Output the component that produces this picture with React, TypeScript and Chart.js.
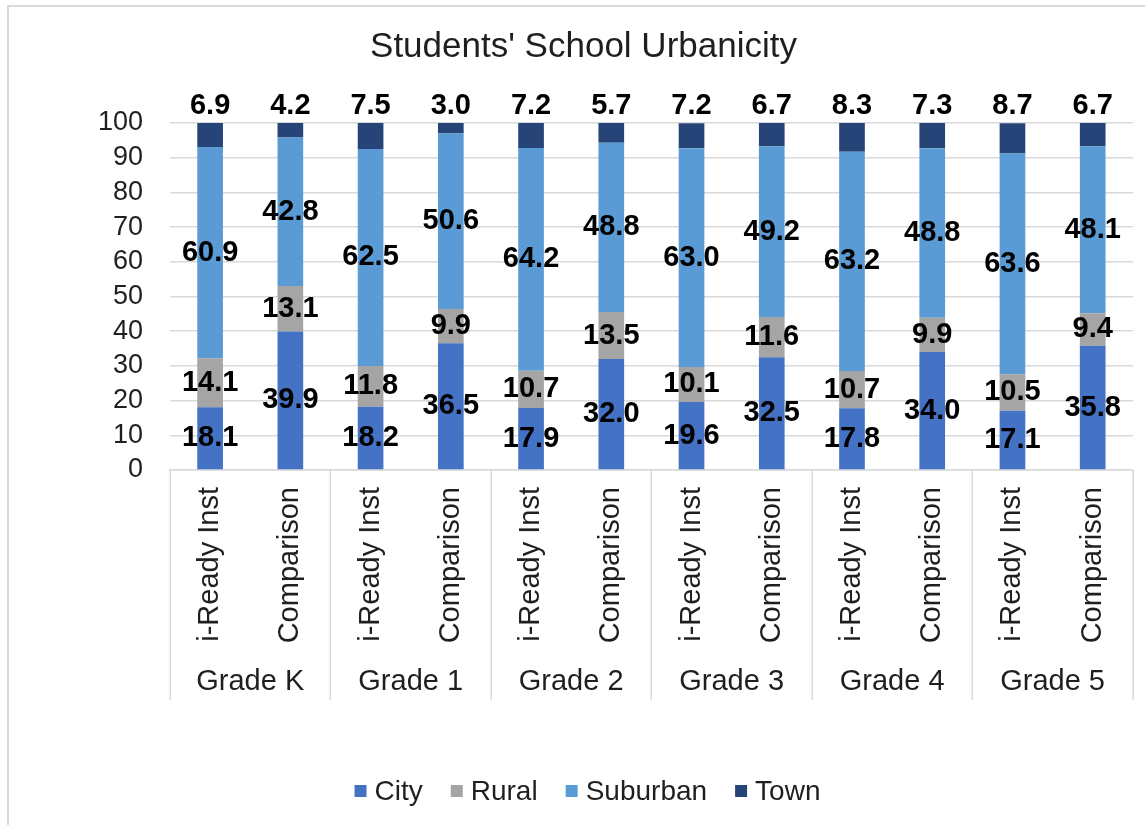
import React, { useEffect, useRef } from "react";
import { Chart, registerables } from "chart.js";

Chart.register(...registerables);

const FONT = "'Liberation Sans', Arial, sans-serif";
const TEXT = "#1f1f1f";
const GRID = "#d9d9d9";

const grades = ["Grade K", "Grade 1", "Grade 2", "Grade 3", "Grade 4", "Grade 5"];
const groups = ["i-Ready Inst", "Comparison"];
const categories = grades.flatMap(() => groups);

const city = [18.1, 39.9, 18.2, 36.5, 17.9, 32.0, 19.6, 32.5, 17.8, 34.0, 17.1, 35.8];
const rural = [14.1, 13.1, 11.8, 9.9, 10.7, 13.5, 10.1, 11.6, 10.7, 9.9, 10.5, 9.4];
const suburban = [60.9, 42.8, 62.5, 50.6, 64.2, 48.8, 63.0, 49.2, 63.2, 48.8, 63.6, 48.1];
const town = [6.9, 4.2, 7.5, 3.0, 7.2, 5.7, 7.2, 6.7, 8.3, 7.3, 8.7, 6.7];

const seriesNames = ["City", "Rural", "Suburban", "Town"];
const seriesValues = [city, rural, suburban, town];
const seriesColors = ["#4472C4", "#A5A5A5", "#5B9BD5", "#264478"];

const yMin = 0;
const yMax = 100;
const yStep = 10;
const titleText = "Students' School Urbanicity";

const frame = {
  id: "frame",
  beforeDraw(chart: any) {
    const ctx = chart.ctx;
    ctx.save();
    ctx.strokeStyle = GRID;
    ctx.lineWidth = 2;
    ctx.beginPath();
    ctx.moveTo(7, 6);
    ctx.lineTo(chart.width, 6);
    ctx.moveTo(8, 6);
    ctx.lineTo(8, chart.height);
    ctx.stroke();
    ctx.restore();
  },
};

const groupSeparators = {
  id: "groupSeparators",
  afterDraw(chart: any) {
    const { ctx, chartArea } = chart;
    const x2 = chart.scales.x2;
    const n = grades.length;
    const w = (chartArea.right - chartArea.left) / n;
    ctx.save();
    ctx.strokeStyle = GRID;
    ctx.lineWidth = 1.5;
    ctx.beginPath();
    for (let i = 0; i <= n; i++) {
      const x = Math.round(chartArea.left + i * w) + 0.25;
      ctx.moveTo(x, chartArea.bottom);
      ctx.lineTo(x, x2.top + 40);
    }
    ctx.stroke();
    ctx.restore();
  },
};

const valueLabels = {
  id: "valueLabels",
  afterDatasetsDraw(chart: any) {
    const ctx = chart.ctx;
    const last = chart.data.datasets.length - 1;
    ctx.save();
    ctx.font = `bold 29px ${FONT}`;
    ctx.fillStyle = "#000";
    ctx.textAlign = "center";
    ctx.textBaseline = "middle";
    chart.data.datasets.forEach((ds: any, di: number) => {
      const meta = chart.getDatasetMeta(di);
      meta.data.forEach((bar: any, i: number) => {
        const v = ds.data[i] as number;
        const p = bar.getProps(["x", "y", "base"], true);
        const ty = di === last ? p.y - 17 : (p.y + p.base) / 2;
        ctx.fillText(v.toFixed(1), p.x, ty);
      });
    });
    ctx.restore();
  },
};

const customLegend = {
  id: "customLegend",
  afterDraw(chart: any) {
    const ctx = chart.ctx;
    ctx.save();
    ctx.font = `28px ${FONT}`;
    ctx.textBaseline = "middle";
    ctx.textAlign = "left";
    const box = 12;
    const gapText = 8;
    const gapItem = 28;
    const ds = chart.data.datasets;
    const widths = ds.map((d: any) => ctx.measureText(d.label).width);
    const total =
      widths.reduce((a: number, w: number) => a + box + gapText + w, 0) +
      gapItem * (ds.length - 1);
    let x = chart.width / 2 + 15 - total / 2;
    const cy = 791;
    ds.forEach((d: any, i: number) => {
      ctx.fillStyle = d.backgroundColor;
      ctx.fillRect(x, cy - box / 2, box, box);
      ctx.fillStyle = TEXT;
      ctx.fillText(d.label, x + box + gapText, cy + 1);
      x += box + gapText + widths[i] + gapItem;
    });
    ctx.restore();
  },
};

export default function App() {
  const ref = useRef<HTMLCanvasElement | null>(null);

  useEffect(() => {
    if (!ref.current) return;
    Chart.defaults.font.family = FONT;
    const chart = new Chart(ref.current, {
      type: "bar",
      data: {
        labels: categories,
        datasets: seriesNames.map((name, i) => ({
          label: name,
          data: seriesValues[i],
          backgroundColor: seriesColors[i],
          borderWidth: 0,
          barPercentage: 0.32,
          categoryPercentage: 1.0,
        })),
      },
      options: {
        responsive: false,
        animation: false,
        devicePixelRatio: 1,
        layout: { padding: { top: 5, left: 34, right: 12, bottom: 105 } },
        plugins: {
          legend: { display: false },
          tooltip: { enabled: false },
          title: {
            display: true,
            text: titleText,
            color: TEXT,
            font: { size: 35, weight: "normal", family: FONT },
            padding: { top: 21, bottom: 55 },
          },
        },
        scales: {
          x: {
            stacked: true,
            grid: { display: false, drawTicks: false },
            border: { display: true, color: GRID, width: 1.5 },
            ticks: {
              autoSkip: false,
              minRotation: 90,
              maxRotation: 90,
              padding: 17,
              color: TEXT,
              font: { size: 29, family: FONT },
            },
            afterFit: (s: any) => {
              s.height = 190;
            },
          },
          x2: {
            type: "category",
            labels: grades,
            position: "bottom",
            offset: true,
            weight: 1,
            grid: { display: false, drawTicks: false },
            border: { display: false },
            ticks: {
              autoSkip: false,
              maxRotation: 0,
              minRotation: 0,
              padding: 5,
              color: TEXT,
              font: { size: 29, family: FONT },
            },
            afterFit: (s: any) => {
              s.height = 60;
            },
          },
          y: {
            stacked: true,
            min: yMin,
            max: yMax,
            ticks: {
              stepSize: yStep,
              autoSkip: false,
              padding: 27,
              color: TEXT,
              font: { size: 27, family: FONT },
            },
            grid: { color: GRID, lineWidth: 1.5, drawTicks: false },
            border: { display: false },
            afterFit: (s: any) => {
              s.width = 136;
            },
          },
        },
      } as any,
      plugins: [frame, valueLabels, groupSeparators, customLegend],
    });
    return () => chart.destroy();
  }, []);

  return (
    <div style={{ position: "absolute", left: 0, top: 0, width: 1145, height: 825, background: "#fff" }}>
      <canvas ref={ref} width={1145} height={825} />
    </div>
  );
}
